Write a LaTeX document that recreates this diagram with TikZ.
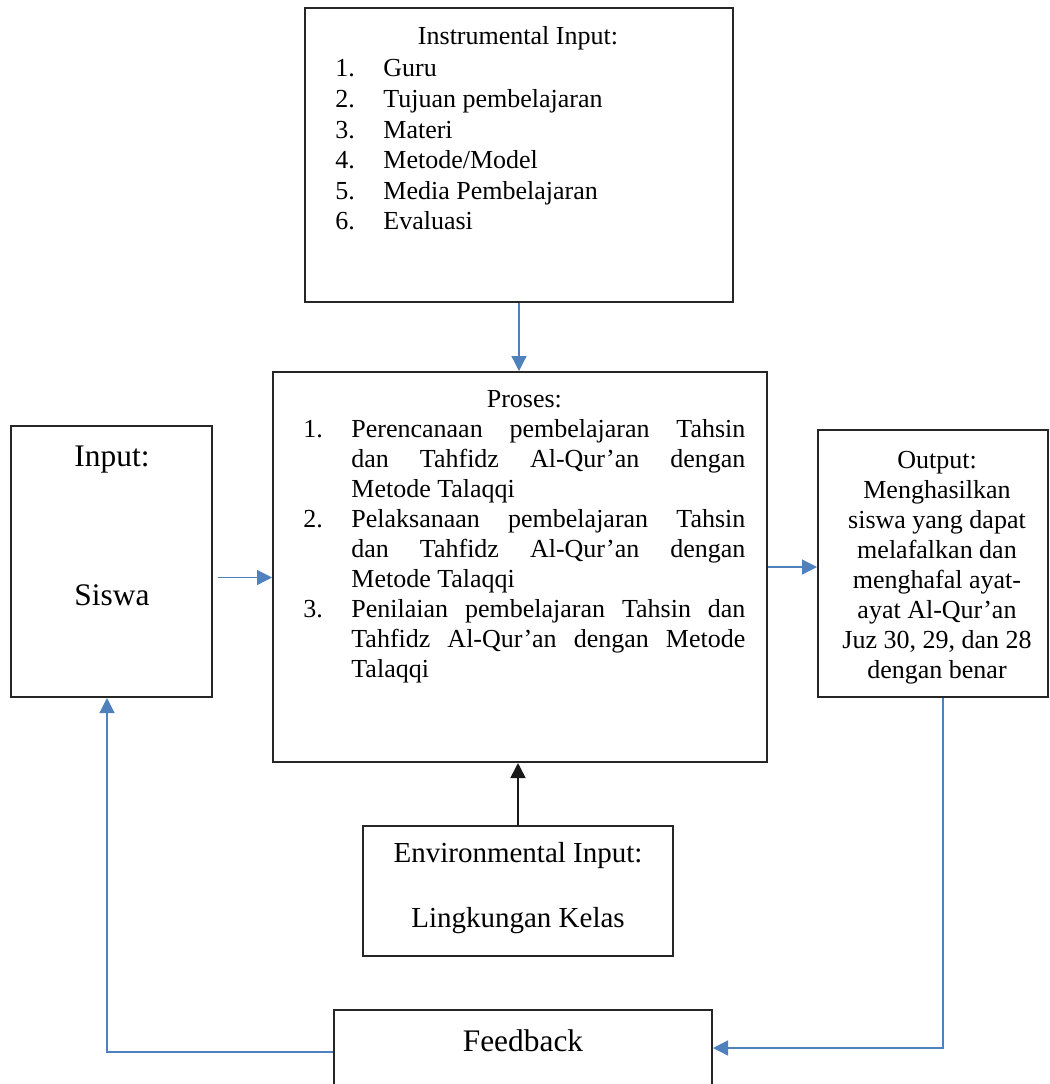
\documentclass[tikz,border=0pt]{standalone}
\usepackage{fontspec}
\setmainfont{Liberation Serif}
\usetikzlibrary{arrows.meta}
\definecolor{flowblue}{RGB}{79,129,189}
\tikzset{
    box/.style={draw=black!85, line width=1pt, inner sep=0pt},
    txt/.style={inner sep=0pt},
    flow/.style={draw=flowblue, line width=0.6pt, -{Triangle[length=7.5pt,width=7.5pt]}},
    flowdark/.style={draw=black!90, line width=0.8pt, -{Triangle[length=7.5pt,width=7.5pt]}}
}
\begin{document}
\begin{tikzpicture}[x=0.5pt,y=-0.5pt]
            \clip (0,0) rectangle (1050,1084);
            \node[box, minimum width=214pt, minimum height=147pt] (instr) at (519,155) {};
            \node[box, minimum width=247pt, minimum height=195pt] (proses) at (520,567) {};
            \node[box, minimum width=100.5pt, minimum height=135.5pt] (input) at (111.5,561.5) {};
            \node[box, minimum width=115pt, minimum height=133.5pt] (output) at (933,563.5) {};
            \node[box, minimum width=155pt, minimum height=65pt] (env) at (518,891) {};
            \node[box, minimum width=189pt, minimum height=90pt] (feedback) at (523,1100) {};
            \node[txt, font=\fontsize{13}{15}\selectfont] (instrtitle) at (518,38) {Instrumental Input:};
            \node[txt, anchor=north west] (instrlist) at (335,55) {\fontsize{13}{15.3}\selectfont
                \begin{tabular}{@{}p{24pt}@{}l@{}}
                    1. & Guru\\
                    2. & Tujuan pembelajaran\\
                    3. & Materi\\
                    4. & Metode/Model\\
                    5. & Media Pembelajaran\\
                    6. & Evaluasi
                \end{tabular}};
            \node[txt, anchor=north west] (prosestext) at (303,386) {\fontsize{13}{15}\selectfont
                \begin{tabular}{@{}p{24pt}@{}p{197pt}@{}}
                    \multicolumn{2}{@{}c@{}}{Proses:}\\
                    1. & Perencanaan\hfill pembelajaran\hfill Tahsin\\
                       & dan\hfill Tahfidz\hfill Al-Qur'an\hfill dengan\\
                       & Metode Talaqqi\\
                    2. & Pelaksanaan\hfill pembelajaran\hfill Tahsin\\
                       & dan\hfill Tahfidz\hfill Al-Qur'an\hfill dengan\\
                       & Metode Talaqqi\\
                    3. & Penilaian\hfill pembelajaran\hfill Tahsin\hfill dan\\
                       & Tahfidz\hfill Al-Qur'an\hfill dengan\hfill Metode\\
                       & Talaqqi
                \end{tabular}};
            \node[txt, font=\fontsize{15.7}{18}\selectfont] (inputtitle) at (112,460) {Input:};
            \node[txt, font=\fontsize{15.7}{18}\selectfont] (siswa) at (112,595) {Siswa};
            \node[txt, align=center, font=\fontsize{13}{15}\selectfont] (outputtext) at (937,568)
                {Output:\\Menghasilkan\\siswa yang dapat\\melafalkan dan\\menghafal ayat-\\ayat Al-Qur'an\\Juz 30, 29, dan 28\\dengan benar};
            \node[txt, font=\fontsize{14.5}{17}\selectfont] (envtitle) at (518,856) {Environmental Input:};
            \node[txt, font=\fontsize{14.5}{17}\selectfont] (kelas) at (518,921) {Lingkungan Kelas};
            \node[txt, font=\fontsize{15.7}{18}\selectfont] (fbtext) at (523,1041) {Feedback};
            \coordinate (inarrow) at ([xshift=2.5pt,yshift=-8pt]input.east);
            \draw[flow] (instr.south) -- (instr.south |- proses.north);
            \draw[flow] (inarrow) -- (inarrow -| proses.west);
            \draw[flow] (proses.east) -- (proses.east -| output.west);
            \draw[flowdark] (env.north) -- (env.north |- proses.south);
            \draw[flow] ([xshift=5pt]output.south) |- ([yshift=-19.5pt]feedback.north east);
            \draw[flow] ([yshift=-21.5pt]feedback.north west) -| ([xshift=-2.25pt]input.south);
        \end{tikzpicture}
\end{document}
